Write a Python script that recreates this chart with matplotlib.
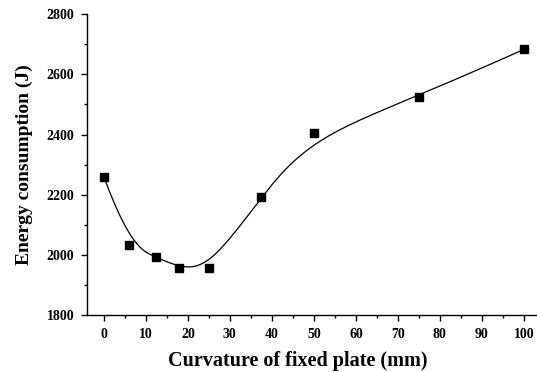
import numpy as np
import matplotlib
matplotlib.use("Agg")
import matplotlib.pyplot as plt
from matplotlib.ticker import MultipleLocator

curvature = [0, 6, 12.5, 18, 25, 37.5, 50, 75, 100]
energy = [2260, 2033, 1992, 1958, 1955, 2193, 2406, 2526, 2683]
x_ticks = [0, 10, 20, 30, 40, 50, 60, 70, 80, 90, 100]
y_ticks = [1800, 2000, 2200, 2400, 2600, 2800]


def bspline(px, py, k=3, n=600):
    # clamped uniform B-spline with the data as control points
    P = np.column_stack([px, py]).astype(float)
    m = len(P)
    inner = np.arange(1, m - k)
    t = np.concatenate([np.zeros(k + 1), inner, np.full(k + 1, m - k)]).astype(float)
    u = np.linspace(0, m - k, n)
    u[-1] -= 1e-9
    N = np.zeros((n, len(t) - 1))
    for i in range(len(t) - 1):
        N[:, i] = ((u >= t[i]) & (u < t[i + 1])).astype(float)
    for d in range(1, k + 1):
        Nn = np.zeros((n, len(t) - 1 - d))
        for i in range(len(t) - 1 - d):
            a = 0.0
            den1 = t[i + d] - t[i]
            den2 = t[i + d + 1] - t[i + 1]
            if den1 > 0:
                a = a + (u - t[i]) / den1 * N[:, i]
            if den2 > 0:
                a = a + (t[i + d + 1] - u) / den2 * N[:, i + 1]
            Nn[:, i] = a
        N = Nn
    C = N @ P
    return C[:, 0], C[:, 1]


plt.rcParams['font.family'] = ['Liberation Serif', 'DejaVu Serif']
plt.rcParams['font.weight'] = 'bold'

fig = plt.figure(figsize=(5.37, 3.72), dpi=100)
ax = fig.add_axes([0.162, 0.153, 0.845, 0.809])

cx, cy = bspline(curvature, energy)
ax.plot(cx, cy, color='black', lw=0.9)
ax.plot(curvature, energy, linestyle='none', marker='s', color='black', markersize=5.5)

ax.set_xlim(-4, 104)
ax.set_ylim(1800, 2800)
ax.set_xticks(x_ticks)
ax.set_yticks(y_ticks)
ax.xaxis.set_minor_locator(MultipleLocator(5))
ax.yaxis.set_minor_locator(MultipleLocator(100))
ax.spines['top'].set_visible(False)
ax.spines['right'].set_visible(False)
for s in ['left', 'bottom']:
    ax.spines[s].set_linewidth(1.0)
ax.tick_params(which='major', direction='out', length=4, width=1, labelsize=10, pad=5)
ax.tick_params(which='minor', direction='out', length=2.5, width=1)
for lab in ax.get_xticklabels() + ax.get_yticklabels():
    lab.set_fontweight('bold')

ax.set_xlabel('Curvature of fixed plate (mm)', fontsize=14.5, fontweight='bold')
ax.set_ylabel('Energy consumption (J)', fontsize=14, fontweight='bold')
ax.xaxis.set_label_coords(0.465, -0.118)
ax.yaxis.set_label_coords(-0.12, 0.5)

fig.savefig('out.png', dpi=100)
